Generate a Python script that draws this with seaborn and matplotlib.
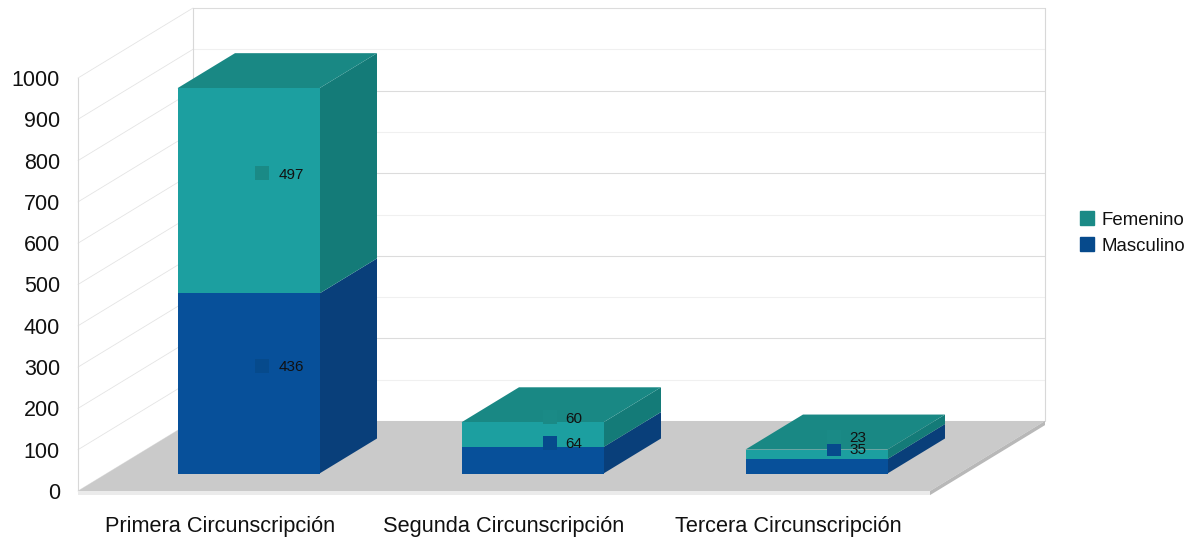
import matplotlib
matplotlib.use("Agg")
import matplotlib.pyplot as plt
from matplotlib.patches import Patch
import seaborn as sns

CATEGORIES = ["Primera Circunscripción", "Segunda Circunscripción", "Tercera Circunscripción"]
MASCULINO = [436, 64, 35]
FEMENINO = [497, 60, 23]
TICKS = list(range(0, 1001, 100))

W, H = 1204, 543
# front plane of the fake 3d box, in pixels
LEFT, RIGHT, BASE, TOP = 78, 930, 491, 78
CAT_PX = (RIGHT - LEFT) / 3
VAL_PX = (BASE - TOP) / 1000
# one full step into the box, in data units
DX = 115 / CAT_PX
DY = 70 / VAL_PX
BAR_DEPTH = 0.5
MARKER_SHIFT = [0.049, 0.06, 0.06]

TEAL = {"front": "#1c9fa0", "side": "#147b78", "top": "#198884", "mark": "#1a8a86"}
BLUE = {"front": "#07509a", "side": "#093f7a", "mark": "#064a8c"}


def place(fig, px, py):
    return fig.add_axes([(LEFT + px) / W, (H - BASE + py) / H, (RIGHT - LEFT) / W, (BASE - TOP) / H])


def setup(ax):
    ax.set_xlim(-0.5, 2.5)
    ax.set_ylim(0, 1000)
    for s in ax.spines.values():
        s.set_visible(False)


def draw_box(ax):
    x0, x1 = -0.5, 2.5
    # walls and grid
    for i, t in enumerate(TICKS):
        c = "#dcdcdc" if i % 2 == 0 else "#f0f0f0"
        ax.plot([x0, x0 + DX], [t, t + DY], color="#e4e4e4", lw=0.6, clip_on=False, zorder=1)
        ax.plot([x0 + DX, x1 + DX], [t + DY, t + DY], color=c, lw=0.8, clip_on=False, zorder=1)
    ax.plot([x0, x0], [0, 1000], color="#d8d8d8", lw=0.8, clip_on=False, zorder=1)
    ax.plot([x0 + DX, x0 + DX], [DY, 1000 + DY], color="#d8d8d8", lw=0.8, clip_on=False, zorder=1)
    ax.plot([x1 + DX, x1 + DX], [DY, 1000 + DY], color="#d8d8d8", lw=0.8, clip_on=False, zorder=1)
    # floor
    ax.fill([x0, x1, x1 + DX, x0 + DX], [0, 0, DY, DY], color="#cacaca", lw=0, clip_on=False, zorder=2)
    ax.fill([x0, x1, x1, x0], [0, 0, -10, -10], color="#ebebeb", lw=0, clip_on=False, zorder=2)
    ax.fill([x1, x1 + DX, x1 + DX, x1], [0, DY, DY - 10, -10], color="#b8b8b8", lw=0, clip_on=False, zorder=2)


def draw_bars(ax):
    totals = [m + f for m, f in zip(MASCULINO, FEMENINO)]
    sns.barplot(x=CATEGORIES, y=totals, color=TEAL["front"], saturation=1, width=0.5, ax=ax, zorder=3, linewidth=0)
    sns.barplot(x=CATEGORIES, y=MASCULINO, color=BLUE["front"], saturation=1, width=0.5, ax=ax, zorder=3, linewidth=0)
    dx, dy = DX * BAR_DEPTH, DY * BAR_DEPTH
    for i, (m, t) in enumerate(zip(MASCULINO, totals)):
        r = i + 0.25
        l = i - 0.25
        ax.fill([r, r + dx, r + dx, r], [0, dy, m + dy, m], color=BLUE["side"], lw=0, clip_on=False, zorder=2)
        ax.fill([r, r + dx, r + dx, r], [m, m + dy, t + dy, t], color=TEAL["side"], lw=0, clip_on=False, zorder=2)
        ax.fill([l, r, r + dx, l + dx], [t, t, t + dy, t + dy], color=TEAL["top"], lw=0, clip_on=False, zorder=2)
        # value markers sit halfway into the bar
        for val, mid, col in ((m, m / 2, BLUE), (t - m, m + (t - m) / 2, TEAL)):
            xm, ym = i + MARKER_SHIFT[i], mid + dy / 2
            ax.scatter([xm], [ym], marker="s", s=88, color=col["mark"], lw=0, clip_on=False, zorder=5)
            ax.annotate(str(val), (xm, ym), xytext=(11.5, -1), textcoords="offset points", ha="left",
                        va="center", fontsize=11, color="#111111", zorder=6, annotation_clip=False)


def main():
    sns.set_theme(style="white")
    plt.rcParams["font.family"] = ["Liberation Sans", "DejaVu Sans"]
    fig = plt.figure(figsize=(W / 100, H / 100), dpi=100)

    ax = place(fig, 0, 0)
    setup(ax)
    draw_box(ax)
    ax.set_yticks(TICKS)
    ax.set_xticks(range(3))
    ax.set_xticklabels(CATEGORIES)
    ax.tick_params(axis="y", length=0, pad=13, labelsize=15.5, labelcolor="#111111")
    ax.tick_params(axis="x", length=0, pad=18, labelsize=15.7, labelcolor="#111111")

    bars = place(fig, 28.5, 17.5)
    bars.patch.set_visible(False)
    draw_bars(bars)
    setup(bars)
    bars.set_xticks([])
    bars.set_yticks([])
    bars.set_xlabel("")
    bars.set_ylabel("")

    handles = [Patch(color=TEAL["mark"], label="Femenino"), Patch(color=BLUE["mark"], label="Masculino")]
    fig.legend(handles=handles, loc="center left", bbox_to_anchor=(1080 / W, 1 - 233 / H), frameon=False,
               fontsize=13.4, handlelength=0.77, handleheight=0.77, handletextpad=0.4, labelspacing=0.45,
               borderpad=0, borderaxespad=0, labelcolor="#111111")

    fig.savefig("out.png", dpi=100)


if __name__ == "__main__":
    main()
